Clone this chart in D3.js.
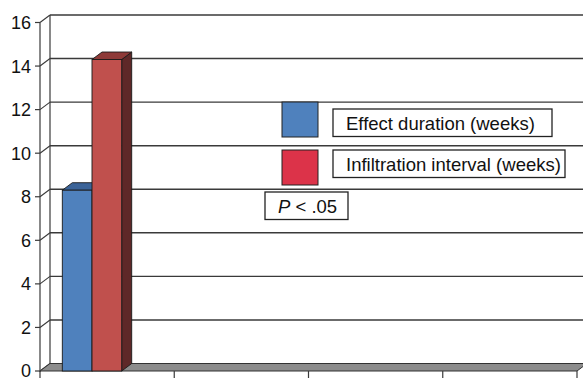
<!DOCTYPE html>
<html>
<head>
<meta charset="utf-8">
<script src="https://cdn.jsdelivr.net/npm/d3@7/dist/d3.min.js"></script>
<style>
  html, body { margin: 0; padding: 0; background: #fff; }
  svg { display: block; font-family: "Liberation Sans", Arial, Helvetica, sans-serif; }
</style>
</head>
<body>
<svg id="chart" width="583" height="378"></svg>
<script>
// Data
const categories = ["A", "B", "C", "D"];
const seriesNames = ["Effect duration (weeks)", "Infiltration interval (weeks)"];
const effectDuration = [8.3, null, null, null];
const infiltrationInterval = [14.3, null, null, null];
const yTicks = [0, 2, 4, 6, 8, 10, 12, 14, 16];
const note = "< .05";

const svg = d3.select("#chart");
const W = 583;

// 3-D depth offset of the back wall
const DX = 10, DY = -7.5;

const y = d3.scaleLinear().domain([0, 16]).range([371, 22.5]);
const x0 = d3.scaleBand().domain(categories).range([40, 577]);
const x1 = d3.scaleBand().domain(seriesNames).range([22.3, 81.7]);

const lineCol = "#3a3a3a";

// Back wall gridlines and side-wall connectors
yTicks.forEach(v => {
  if (v > 0) {
    svg.append("line")
      .attr("x1", 40 + DX).attr("x2", W + 2)
      .attr("y1", y(v) + DY).attr("y2", y(v) + DY)
      .attr("stroke", lineCol).attr("stroke-width", 1.4);
  }
  svg.append("line")
    .attr("x1", 40).attr("y1", y(v))
    .attr("x2", 40 + DX).attr("y2", y(v) + DY)
    .attr("stroke", lineCol).attr("stroke-width", 1.1);
});

// Back wall left edge
svg.append("line")
  .attr("x1", 40 + DX).attr("x2", 40 + DX)
  .attr("y1", y(16) + DY).attr("y2", y(0) + DY)
  .attr("stroke", lineCol).attr("stroke-width", 1.2);

// Floor
const floorPts = [[40, y(0)], [577, y(0)], [577 + DX, y(0) + DY], [40 + DX, y(0) + DY]];
svg.append("polygon")
  .attr("points", floorPts.map(p => p.join(",")).join(" "))
  .attr("fill", "#8c8c8c").attr("stroke", "#333").attr("stroke-width", 1);

// Front value axis
svg.append("line")
  .attr("x1", 40).attr("x2", 40)
  .attr("y1", y(16)).attr("y2", y(0) + 1)
  .attr("stroke", lineCol).attr("stroke-width", 1.2);
const yAxisG = svg.append("g");
yTicks.forEach(v => {
  yAxisG.append("line")
    .attr("x1", 35).attr("x2", 40)
    .attr("y1", y(v)).attr("y2", y(v))
    .attr("stroke", lineCol).attr("stroke-width", 1.2);
  yAxisG.append("text")
    .attr("x", 31).attr("y", y(v))
    .attr("dy", "0.36em")
    .attr("text-anchor", "end")
    .attr("font-size", 18)
    .attr("fill", "#111")
    .text(v);
});

// Category axis ticks
const catEdges = categories.map(c => x0(c)).concat([x0.range()[1]]);
catEdges.forEach(cx => {
  svg.append("line")
    .attr("x1", cx).attr("x2", cx)
    .attr("y1", y(0)).attr("y2", y(0) + 7)
    .attr("stroke", lineCol).attr("stroke-width", 1.2);
});

// 3-D bars
const seriesData = [
  { name: seriesNames[0], values: effectDuration, front: "#4f81bd", top: "#3b6398", side: "#2c4b73" },
  { name: seriesNames[1], values: infiltrationInterval, front: "#c0504d", top: "#8e3a38", side: "#5e2828" }
];
const barG = svg.append("g");
seriesData.forEach(s => {
  s.values.forEach((v, i) => {
    if (v == null) return;
    const bx = x0(categories[i]) + x1(s.name);
    const bw = x1.bandwidth();
    const yt = y(v), yb = y(0);
    const poly = pts => pts.map(p => p.join(",")).join(" ");
    barG.append("polygon")
      .attr("points", poly([[bx + bw, yt], [bx + bw + DX, yt + DY], [bx + bw + DX, yb + DY], [bx + bw, yb]]))
      .attr("fill", s.side).attr("stroke", "#1a1a1a").attr("stroke-width", 0.9);
    barG.append("polygon")
      .attr("points", poly([[bx, yt], [bx + DX, yt + DY], [bx + bw + DX, yt + DY], [bx + bw, yt]]))
      .attr("fill", s.top).attr("stroke", "#1a1a1a").attr("stroke-width", 0.9);
    barG.append("rect")
      .attr("x", bx).attr("y", yt)
      .attr("width", bw).attr("height", yb - yt)
      .attr("fill", s.front).attr("stroke", "#1a1a1a").attr("stroke-width", 0.9);
  });
});

// Legend
const legendSwatch = ["#4f81bd", "#dc3349"];
const legendRows = [
  { sy: 102, by: 109, bw: 219 },
  { sy: 150, by: 150, bw: 232 }
];
seriesNames.forEach((name, i) => {
  const r = legendRows[i];
  svg.append("rect")
    .attr("x", 282).attr("y", r.sy).attr("width", 36).attr("height", 35)
    .attr("fill", legendSwatch[i]).attr("stroke", "#222").attr("stroke-width", 1);
  svg.append("rect")
    .attr("x", 333).attr("y", r.by).attr("width", r.bw).attr("height", 27.5)
    .attr("fill", "#fff").attr("stroke", "#222").attr("stroke-width", 1.3);
  svg.append("text")
    .attr("x", 346).attr("y", r.by + 14)
    .attr("dy", "0.36em")
    .attr("font-size", 18.5)
    .attr("fill", "#111")
    .text(name);
});

// Significance note
svg.append("rect")
  .attr("x", 265).attr("y", 192).attr("width", 83).attr("height", 27.5)
  .attr("fill", "#fff").attr("stroke", "#222").attr("stroke-width", 1.3);
const noteText = svg.append("text")
  .attr("x", 278).attr("y", 206)
  .attr("dy", "0.36em")
  .attr("font-size", 18.5)
  .attr("fill", "#111");
noteText.append("tspan").attr("font-style", "italic").text("P");
noteText.append("tspan").text(" " + note);
</script>
</body>
</html>
